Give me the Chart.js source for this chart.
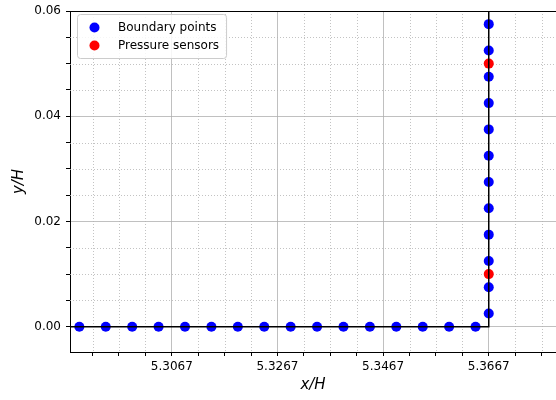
<!DOCTYPE html>
<html>
<head>
<meta charset="utf-8">
<script src="https://cdn.jsdelivr.net/npm/chart.js@4.4.1/dist/chart.umd.min.js"></script>
<style>
  html, body { margin: 0; padding: 0; background: #fff; }
  #wrap { width: 556px; height: 400px; position: relative; }
</style>
</head>
<body>
<div id="wrap"><canvas id="chart"></canvas></div>
<script>
// boundary points along the floor, then up the wall
const boundaryX = [5.28917, 5.29417, 5.29917, 5.30417, 5.30917, 5.31417, 5.31917, 5.32417,
                   5.32917, 5.33417, 5.33917, 5.34417, 5.34917, 5.35417, 5.35917, 5.36417,
                   5.36667, 5.36667, 5.36667, 5.36667, 5.36667, 5.36667,
                   5.36667, 5.36667, 5.36667, 5.36667, 5.36667, 5.36667];
const boundaryY = [0, 0, 0, 0, 0, 0, 0, 0,
                   0, 0, 0, 0, 0, 0, 0, 0,
                   0.0025, 0.0075, 0.0125, 0.0175, 0.0225, 0.0275,
                   0.0325, 0.0375, 0.0425, 0.0475, 0.0525, 0.0575];
const sensorX = [5.36667, 5.36667];
const sensorY = [0.01, 0.05];
// wall outline (floor + vertical wall)
const wallX = [5.28, 5.36667, 5.36667];
const wallY = [0, 0, 0.07];

const xMajorTicks = [5.30667, 5.32667, 5.34667, 5.36667];
const xMinorTicks = [5.29167, 5.29667, 5.30167, 5.31167, 5.31667, 5.32167, 5.33167,
                     5.33667, 5.34167, 5.35167, 5.35667, 5.36167, 5.37167, 5.37667];
const yMajorTicks = [0, 0.02, 0.04, 0.06];
const yMinorTicks = [0.005, 0.01, 0.015, 0.025, 0.03, 0.035, 0.045, 0.05, 0.055];

const toPoints = (xs, ys) => xs.map((x, i) => ({ x: x, y: ys[i] }));
const isMajor = (list, v) => list.some(m => Math.abs(m - v) < 1e-7);
const FONT = 'DejaVu Sans';
const noPad = () => ({ left: 0, right: 0, top: 0, bottom: 0 });

// dotted minor grid, drawn under the points
const minorGrid = {
  id: 'minorGrid',
  beforeDatasetsDraw(chart) {
    const { ctx, chartArea: { left, right, top, bottom }, scales: { x, y } } = chart;
    ctx.save();
    ctx.strokeStyle = '#b4b4b4';
    ctx.lineWidth = 0.8;
    ctx.setLineDash([1, 2]);
    xMinorTicks.forEach(v => {
      const px = Math.round(x.getPixelForValue(v)) + 0.5;
      ctx.beginPath(); ctx.moveTo(px, top); ctx.lineTo(px, bottom); ctx.stroke();
    });
    yMinorTicks.forEach(v => {
      const py = Math.round(y.getPixelForValue(v)) + 0.5;
      ctx.beginPath(); ctx.moveTo(left, py); ctx.lineTo(right, py); ctx.stroke();
    });
    ctx.restore();
  }
};

// top spine + legend inside the plot
const frameAndLegend = {
  id: 'frameAndLegend',
  afterDraw(chart) {
    const { ctx, chartArea: { left, right, top } } = chart;
    ctx.save();
    ctx.strokeStyle = '#000';
    ctx.lineWidth = 1;
    ctx.beginPath(); ctx.moveTo(left, top + 0.5); ctx.lineTo(right, top + 0.5); ctx.stroke();

    const items = chart.data.datasets.filter(d => d.label);
    ctx.font = '12px ' + FONT;
    const boxX = left + 7, boxY = top + 3;
    const textX = boxX + 41;
    const widest = Math.max(...items.map(d => ctx.measureText(d.label).width));
    const boxW = textX - boxX + widest + 7;
    const boxH = 8 + items.length * 18;
    ctx.fillStyle = 'rgba(255,255,255,0.85)';
    ctx.strokeStyle = '#cccccc';
    ctx.beginPath();
    ctx.roundRect(boxX + 0.5, boxY + 0.5, boxW, boxH, 3);
    ctx.fill(); ctx.stroke();

    items.forEach((d, i) => {
      const cy = boxY + 13.5 + i * 18;
      ctx.fillStyle = d.backgroundColor;
      ctx.beginPath(); ctx.arc(boxX + 17.5, cy, 5, 0, Math.PI * 2); ctx.fill();
      ctx.fillStyle = '#000';
      ctx.textBaseline = 'middle';
      ctx.textAlign = 'left';
      ctx.fillText(d.label, textX, cy);
    });
    ctx.restore();
  }
};

new Chart(document.getElementById('chart'), {
  type: 'scatter',
  data: {
    datasets: [
      {
        data: toPoints(wallX, wallY),
        showLine: true,
        borderColor: '#000',
        borderWidth: 1.5,
        pointRadius: 0,
        order: 0
      },
      {
        label: 'Boundary points',
        data: toPoints(boundaryX, boundaryY),
        backgroundColor: '#0000ff',
        borderWidth: 0,
        pointRadius: 5,
        order: 2
      },
      {
        label: 'Pressure sensors',
        data: toPoints(sensorX, sensorY),
        backgroundColor: '#ff0000',
        borderWidth: 0,
        pointRadius: 5,
        order: 1
      }
    ]
  },
  options: {
    responsive: true,
    maintainAspectRatio: false,
    animation: false,
    layout: { autoPadding: false, padding: { top: 11, right: 0, left: 0, bottom: 0 } },
    plugins: { legend: { display: false }, tooltip: { enabled: false } },
    scales: {
      x: {
        type: 'linear',
        min: 5.2874,
        max: 5.3794,
        afterBuildTicks: s => {
          s.ticks = [...xMajorTicks, ...xMinorTicks].sort((a, b) => a - b).map(v => ({ value: v }));
        },
        afterFit: s => { s.height = 48; s.getPadding = noPad; },
        ticks: {
          autoSkip: false,
          maxRotation: 0,
          padding: 4,
          color: '#000',
          font: { family: FONT, size: 12 },
          callback: v => isMajor(xMajorTicks, v) ? v.toFixed(4) : ''
        },
        grid: {
          color: c => (c.tick && isMajor(xMajorTicks, c.tick.value)) ? '#b0b0b0' : 'rgba(0,0,0,0)',
          lineWidth: 0.8,
          tickColor: '#000',
          tickLength: 4,
          tickWidth: 1
        },
        border: { color: '#000', width: 1 },
        title: {
          display: true,
          text: 'x/H',
          color: '#000',
          font: { family: FONT, size: 15, style: 'italic' },
          padding: { top: 0, bottom: 6 }
        }
      },
      y: {
        type: 'linear',
        min: -0.0048,
        max: 0.06,
        afterBuildTicks: s => {
          s.ticks = [...yMajorTicks, ...yMinorTicks].sort((a, b) => a - b).map(v => ({ value: v }));
        },
        afterFit: s => { s.width = 70; s.getPadding = noPad; },
        ticks: {
          autoSkip: false,
          padding: 5,
          color: '#000',
          font: { family: FONT, size: 12 },
          callback: v => isMajor(yMajorTicks, v) ? v.toFixed(2) : ''
        },
        grid: {
          color: c => (c.tick && isMajor(yMajorTicks, c.tick.value)) ? '#b0b0b0' : 'rgba(0,0,0,0)',
          lineWidth: 0.8,
          tickColor: '#000',
          tickLength: 4,
          tickWidth: 1
        },
        border: { color: '#000', width: 1 },
        title: {
          display: true,
          text: 'y/H',
          color: '#000',
          font: { family: FONT, size: 15, style: 'italic' },
          padding: { top: 10, bottom: 0 }
        }
      }
    }
  },
  plugins: [minorGrid, frameAndLegend]
});
</script>
</body>
</html>
